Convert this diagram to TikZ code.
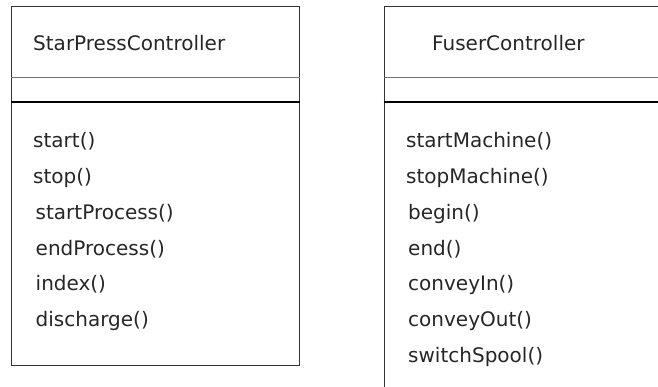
\documentclass[tikz,border=0pt]{standalone}
\usepackage{fontspec}
\setmainfont{DejaVu Sans}

\begin{document}
\begin{tikzpicture}[x=1pt,y=-1pt,
  class box/.style={draw=black!80,line width=1.1pt,anchor=north west,inner sep=0pt},
  name line/.style={draw=black!55,line width=1.2pt},
  attr line/.style={draw=black,line width=2pt},
  label/.style={anchor=base west,inner sep=0pt,text=black!85,font=\fontsize{20}{24}\selectfont}]

  \useasboundingbox (0,0) rectangle (658,386);
  \clip (0,0) rectangle (658,386);

  % StarPressController
  \node[class box,minimum width=288pt,minimum height=359.5pt] (spc) at (11,5.5) {};
  \draw[name line] (spc.west |- 0,77.5) -- (spc.east |- 0,77.5);
  \draw[attr line] (spc.west |- 0,101.5) -- (spc.east |- 0,101.5);

  \node[label] (spc name) at (33,50) {StarPressController};
  \node[label] (start) at (33,147) {start()};
  \node[label] (stop) at (33,183) {stop()};
  \node[label] (startProcess) at (35.5,219) {startProcess()};
  \node[label] (endProcess) at (35.5,255) {endProcess()};
  \node[label] (index) at (35.5,290.5) {index()};
  \node[label] (discharge) at (35.5,326.5) {discharge()};

  % FuserController
  \node[class box,minimum width=300pt,minimum height=400pt] (fc) at (383.5,5.5) {};
  \draw[name line] (fc.west |- 0,77.5) -- (fc.east |- 0,77.5);
  \draw[attr line] (fc.west |- 0,101.5) -- (fc.east |- 0,101.5);

  \node[label] (fc name) at (432,50) {FuserController};
  \node[label] (startMachine) at (406,147) {startMachine()};
  \node[label] (stopMachine) at (406,183) {stopMachine()};
  \node[label] (begin) at (408,219) {begin()};
  \node[label] (end) at (408,255) {end()};
  \node[label] (conveyIn) at (408,290.5) {conveyIn()};
  \node[label] (conveyOut) at (408,326.5) {conveyOut()};
  \node[label] (switchSpool) at (408,362) {switchSpool()};

\end{tikzpicture}
\end{document}
